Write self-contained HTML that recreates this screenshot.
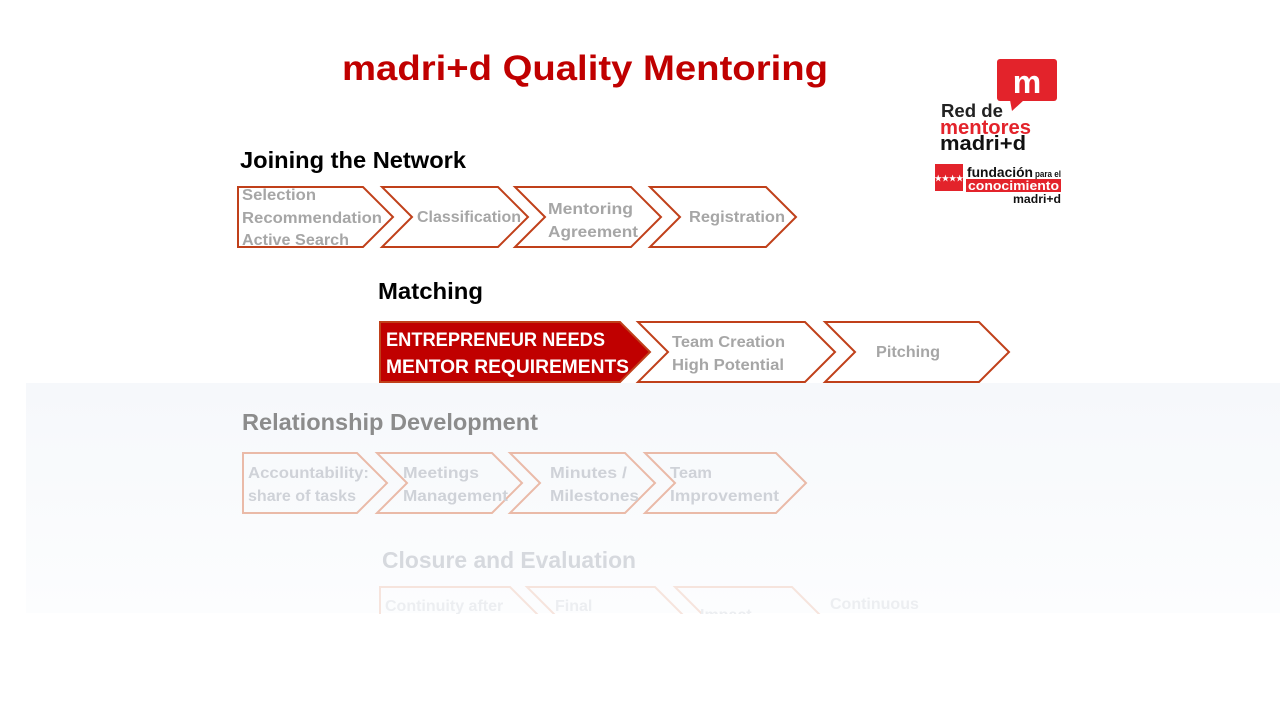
<!DOCTYPE html>
<html><head><meta charset="utf-8"><style>
html,body{margin:0;padding:0;background:#fff}
svg{display:block}
text{font-family:"Liberation Sans",sans-serif;font-weight:bold}
</style></head><body>
<svg width="1280" height="720" viewBox="0 0 1280 720" xmlns="http://www.w3.org/2000/svg">
<rect width="1280" height="720" fill="#fff"/>
<defs><linearGradient id="g" x1="0" y1="0" x2="0" y2="1">
<stop offset="0" stop-color="#f6f8fb"/><stop offset="1" stop-color="#fcfdfe"/></linearGradient>
<clipPath id="c4"><rect x="0" y="0" width="1280" height="614"/></clipPath></defs>
<rect x="26" y="383" width="1254" height="230" fill="url(#g)"/>

<text x="585" y="80" text-anchor="middle" font-size="35" fill="#c00000" textLength="486" lengthAdjust="spacingAndGlyphs">madri+d Quality Mentoring</text>

<!-- logo -->
<rect x="997" y="59" width="60" height="42" rx="3" fill="#e3232b"/>
<polygon points="1010,100 1024,100 1012,111" fill="#e3232b"/>
<text x="1027" y="93" text-anchor="middle" font-size="32" fill="#fff" font-weight="normal">m</text>
<text x="941" y="117" font-size="18" fill="#222" font-weight="normal" textLength="62" lengthAdjust="spacingAndGlyphs">Red de</text>
<text x="940" y="134" font-size="20" fill="#e3232b" font-weight="normal" textLength="91" lengthAdjust="spacingAndGlyphs">mentores</text>
<text x="940" y="150" font-size="20" fill="#111" textLength="86" lengthAdjust="spacingAndGlyphs">madri+d</text>
<rect x="935" y="164" width="28" height="27" fill="#e3232b"/>
<text x="949" y="181" text-anchor="middle" font-size="8" fill="#fff">★★★★</text>
<text x="967" y="177" font-size="14" fill="#111" textLength="66" lengthAdjust="spacingAndGlyphs">fundación</text>
<text x="1035" y="177" font-size="9" fill="#111" font-weight="normal" textLength="26" lengthAdjust="spacingAndGlyphs">para el</text>
<rect x="966" y="179" width="95" height="13" fill="#e3232b"/>
<text x="968" y="190" font-size="13" fill="#fff" font-weight="normal" textLength="91" lengthAdjust="spacingAndGlyphs">conocimiento</text>
<text x="1013" y="203" font-size="12" fill="#111" textLength="48" lengthAdjust="spacingAndGlyphs">madri+d</text>

<g lengthAdjust="spacingAndGlyphs">
<!-- row1 -->
<text x="240" y="168" font-size="23" fill="#000" textLength="226" lengthAdjust="spacingAndGlyphs">Joining the Network</text>
<g fill="#fff" stroke="#c0401a" stroke-width="2">
<path d="M238,187H363L393,217L363,247H238Z"/>
<path d="M382,187H498L528,217L498,247H382L412,217Z"/>
<path d="M515,187H631L661,217L631,247H515L545,217Z"/>
<path d="M650,187H766L796,217L766,247H650L680,217Z"/>
</g>
<g font-size="16" fill="#a6a6a6">
<text x="242" y="200" textLength="74" lengthAdjust="spacingAndGlyphs">Selection</text>
<text x="242" y="223" textLength="140" lengthAdjust="spacingAndGlyphs">Recommendation</text>
<text x="242" y="245" textLength="107" lengthAdjust="spacingAndGlyphs">Active Search</text>
<text x="417" y="222" textLength="104" lengthAdjust="spacingAndGlyphs">Classification</text>
<text x="548" y="214" textLength="85" lengthAdjust="spacingAndGlyphs">Mentoring</text>
<text x="548" y="237" textLength="90" lengthAdjust="spacingAndGlyphs">Agreement</text>
<text x="689" y="222" textLength="96" lengthAdjust="spacingAndGlyphs">Registration</text>
</g>

<!-- row2 -->
<text x="378" y="299" font-size="23" fill="#000" textLength="105" lengthAdjust="spacingAndGlyphs">Matching</text>
<path d="M380,322H620L650,352L620,382H380Z" fill="#c00000" stroke="#c0401a" stroke-width="2"/>
<g fill="#fff" stroke="#c0401a" stroke-width="2">
<path d="M638,322H805L835,352L805,382H638L668,352Z"/>
<path d="M825,322H979L1009,352L979,382H825L855,352Z"/>
</g>
<text x="386" y="346" font-size="19" fill="#fff" textLength="219" lengthAdjust="spacingAndGlyphs">ENTREPRENEUR NEEDS</text>
<text x="386" y="373" font-size="19" fill="#fff" textLength="243" lengthAdjust="spacingAndGlyphs">MENTOR REQUIREMENTS</text>
<g font-size="16" fill="#a6a6a6">
<text x="672" y="347" textLength="113" lengthAdjust="spacingAndGlyphs">Team Creation</text>
<text x="672" y="370" textLength="112" lengthAdjust="spacingAndGlyphs">High Potential</text>
<text x="876" y="357" textLength="64" lengthAdjust="spacingAndGlyphs">Pitching</text>
</g>

<!-- row3 -->
<text x="242" y="430" font-size="23" fill="#8c8c8c" textLength="296" lengthAdjust="spacingAndGlyphs">Relationship Development</text>
<g fill="none" stroke="#eabaa8" stroke-width="2">
<path d="M243,453H357L387,483L357,513H243Z"/>
<path d="M377,453H492L522,483L492,513H377L407,483Z"/>
<path d="M510,453H625L655,483L625,513H510L540,483Z"/>
<path d="M645,453H776L806,483L776,513H645L675,483Z"/>
</g>
<g font-size="16" fill="#cfd2d8">
<text x="248" y="478" textLength="121" lengthAdjust="spacingAndGlyphs">Accountability:</text>
<text x="248" y="501" textLength="108" lengthAdjust="spacingAndGlyphs">share of tasks</text>
<text x="403" y="478" textLength="76" lengthAdjust="spacingAndGlyphs">Meetings</text>
<text x="403" y="501" textLength="105" lengthAdjust="spacingAndGlyphs">Management</text>
<text x="550" y="478" textLength="77" lengthAdjust="spacingAndGlyphs">Minutes /</text>
<text x="550" y="501" textLength="89" lengthAdjust="spacingAndGlyphs">Milestones</text>
<text x="670" y="478" textLength="42" lengthAdjust="spacingAndGlyphs">Team</text>
<text x="670" y="501" textLength="109" lengthAdjust="spacingAndGlyphs">Improvement</text>
</g>

<!-- row4 -->
<text x="382" y="568" font-size="23" fill="#d6d9de" textLength="254" lengthAdjust="spacingAndGlyphs">Closure and Evaluation</text>
<g clip-path="url(#c4)">
<g fill="none" stroke="#f6e4dd" stroke-width="2">
<path d="M380,587H510L540,617L510,647H380Z"/>
<path d="M527,587H655L685,617L655,647H527L557,617Z"/>
<path d="M675,587H792L822,617L792,647H675L705,617Z"/>
</g>
<g font-size="16" fill="#eceef1">
<text x="385" y="611">Continuity after</text>
<text x="555" y="611">Final</text>
<text x="700" y="620">Impact</text>
<text x="830" y="609">Continuous</text>
</g>
</g>
</g>
</svg>
</body></html>
